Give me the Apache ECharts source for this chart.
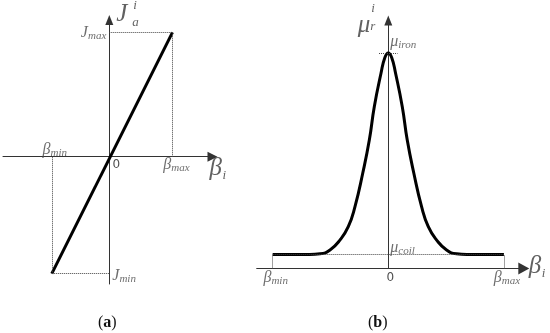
<!DOCTYPE html>
<html>
<head>
<meta charset="utf-8">
<script src="https://cdn.jsdelivr.net/npm/echarts@6/dist/echarts.min.js"></script>
<style>
html,body{margin:0;padding:0;background:#fff;}
#c{width:550px;height:333px;}
</style>
</head>
<body>
<div id="c"></div>
<script>
// ---- Data (a): linear J_a^i vs beta_i ----
const betaA = [-0.91, 1.0];      // beta_min, beta_max
const jA = [-0.94, 1.0];         // J_min, J_max

// ---- Data (b): bell-shaped mu_r^i vs beta_i ----
const betaB = [-1.0, -0.80, -0.68, -0.59, -0.504, -0.418, -0.346, -0.288, -0.221, -0.164, -0.121, -0.063, -0.03, 0,
               0.03, 0.063, 0.121, 0.164, 0.221, 0.288, 0.346, 0.418, 0.504, 0.59, 0.68, 0.80, 1.0];
const muB =   [0.065, 0.065, 0.065, 0.068, 0.086, 0.132, 0.194, 0.287, 0.442, 0.596, 0.751, 0.906, 0.978, 1.0,
               0.978, 0.906, 0.751, 0.596, 0.442, 0.287, 0.194, 0.132, 0.086, 0.068, 0.065, 0.065, 0.065];
const betaLimB = [-1.0, 1.0];    // beta_min, beta_max
const muCoil = 0.065;
const muIron = 1.0;

// ---- axis extents ----
const xRangeA = [-1.682, 1.633], yRangeA = [-1.023, 1.099];
const xRangeB = [-1.138, 1.172], yRangeB = [0, 1.151];

const SERIF = 'Liberation Serif';
const LC = '#4a4a4a';
const rich = {
  m: {fontFamily: SERIF, fontStyle: 'italic', fontSize: 16, color: LC, lineHeight: 20, verticalAlign: 'middle'},
  s: {fontFamily: SERIF, fontStyle: 'italic', fontSize: 11, color: LC, verticalAlign: 'bottom', lineHeight: 20, padding: [0,0,1,0]},
  big: {fontFamily: SERIF, fontStyle: 'italic', fontSize: 25, color: '#3a3a3a'},
  sm: {fontFamily: SERIF, fontStyle: 'italic', fontSize: 13, color: '#3a3a3a'},
  z: {fontFamily: 'DejaVu Sans', fontSize: 12, color: '#222'}
};
function sub(main, s){ return '{m|' + main + '}{s|' + s + '}'; }
function lab(x, y, text, pos, align, vAlign){
  return {value: [x, y], label: {show: true, formatter: text, position: pos, align: align || 'center', verticalAlign: vAlign || 'middle', rich: rich}};
}
const dotted = {type: 'dotted', color: '#444', width: 1};
function axisCommon(sym){
  return {
    axisLine: {onZero: true, symbol: ['none', 'triangle'], symbolSize: sym, lineStyle: {color: '#333', width: 1}},
    axisTick: {show: false}, axisLabel: {show: false}, splitLine: {show: false}
  };
}

const option = {
  backgroundColor: '#fff',
  animation: false,
  grid: [
    {left: 3, top: 20, width: 209.5, height: 264},
    {left: 256.7, top: 20.5, width: 267.1, height: 248}
  ],
  xAxis: [
    Object.assign({type: 'value', gridIndex: 0, min: xRangeA[0], max: xRangeA[1]}, axisCommon([10, 10])),
    Object.assign({type: 'value', gridIndex: 1, min: xRangeB[0], max: xRangeB[1]}, axisCommon([12, 11]))
  ],
  yAxis: [
    Object.assign({type: 'value', gridIndex: 0, min: yRangeA[0], max: yRangeA[1]}, axisCommon([8, 10])),
    Object.assign({type: 'value', gridIndex: 1, min: yRangeB[0], max: yRangeB[1]}, axisCommon([8, 10]))
  ],
  graphic: [
    {type: 'text', left: 98, top: 315, style: {text: '({b|a})', font: '16px "Liberation Serif"', fill: '#111', rich: {b: {fontWeight: 'bold', fontSize: 16, fontFamily: SERIF, fill: '#111'}}}},
    {type: 'text', left: 368, top: 315, style: {text: '({b|b})', font: '16px "Liberation Serif"', fill: '#111', rich: {b: {fontWeight: 'bold', fontSize: 16, fontFamily: SERIF, fill: '#111'}}}}
  ],
  series: [
    {
      type: 'line', xAxisIndex: 0, yAxisIndex: 0, symbol: 'none',
      data: [[betaA[0], jA[0]], [betaA[1], jA[1]]],
      lineStyle: {color: '#000', width: 3},
      markLine: {
        silent: true, symbol: ['none', 'none'], label: {show: false}, lineStyle: dotted,
        data: [
          [{coord: [0, jA[1]]}, {coord: [betaA[1], jA[1]]}],
          [{coord: [betaA[1], 0]}, {coord: [betaA[1], jA[1]]}],
          [{coord: [betaA[0], 0]}, {coord: [betaA[0], jA[0]]}],
          [{coord: [betaA[0], jA[0]]}, {coord: [0, jA[0]]}]
        ]
      },
      z: 3
    },
    {
      type: 'scatter', xAxisIndex: 0, yAxisIndex: 0, symbolSize: 0, silent: true,
      data: [
        lab(0, jA[1], sub('J', 'max'), [-3, 0], 'right'),
        lab(0, jA[0], sub('J', 'min'), [3, 2], 'left'),
        lab(betaA[0], 0, sub('β', 'min'), [3, -7], 'center'),
        lab(betaA[1], 0, sub('β', 'max'), [4, 8], 'center'),
        lab(0, 0, '{z|0}', [7, 8], 'center'),
        lab(xRangeA[1], 0, '{big|β}', [-3, 12], 'left'),
        lab(xRangeA[1], 0, '{sm|i}', [10, 19], 'left'),
        lab(0, yRangeA[1], '{big|J}', [7, -6], 'left'),
        lab(0, yRangeA[1], '{sm|i}', [24, -14], 'left'),
        lab(0, yRangeA[1], '{sm|a}', [23, 3], 'left')
      ]
    },
    {
      type: 'line', xAxisIndex: 1, yAxisIndex: 1, symbol: 'none', smooth: 0.5,
      data: betaB.map((b, i) => [b, muB[i]]),
      lineStyle: {color: '#000', width: 3},
      markLine: {
        silent: true, symbol: ['none', 'none'], label: {show: false}, lineStyle: dotted,
        data: [
          [{coord: [betaLimB[0], muCoil]}, {coord: [betaLimB[1], muCoil]}],
          [{coord: [betaLimB[0], 0]}, {coord: [betaLimB[0], muCoil]}],
          [{coord: [betaLimB[1], 0]}, {coord: [betaLimB[1], muCoil]}],
          [{coord: [-0.08, muIron]}, {coord: [0.08, muIron]}]
        ]
      },
      z: 3
    },
    {
      type: 'scatter', xAxisIndex: 1, yAxisIndex: 1, symbolSize: 0, silent: true,
      data: [
        lab(0, muIron, sub('μ', 'iron'), [2, -11], 'left'),
        lab(0, muCoil, sub('μ', 'coil'), [2, -7], 'left'),
        lab(betaLimB[0], 0, sub('β', 'min'), [3, 9], 'center'),
        lab(betaLimB[1], 0, sub('β', 'max'), [3, 9], 'center'),
        lab(0, 0, '{z|0}', [2, 9], 'center'),
        lab(xRangeB[1], 0, '{big|β}', [5, -2], 'left'),
        lab(xRangeB[1], 0, '{sm|i}', [18, 5], 'left'),
        lab(0, yRangeB[1], '{big|μ}', [-18, 5], 'right'),
        lab(0, yRangeB[1], '{sm|i}', [-17, -12], 'left'),
        lab(0, yRangeB[1], '{sm|r}', [-18, 6], 'left')
      ]
    }
  ]
};
const chart = echarts.init(document.getElementById('c'), null, {renderer: 'canvas'});
chart.setOption(option);
</script>
</body>
</html>
